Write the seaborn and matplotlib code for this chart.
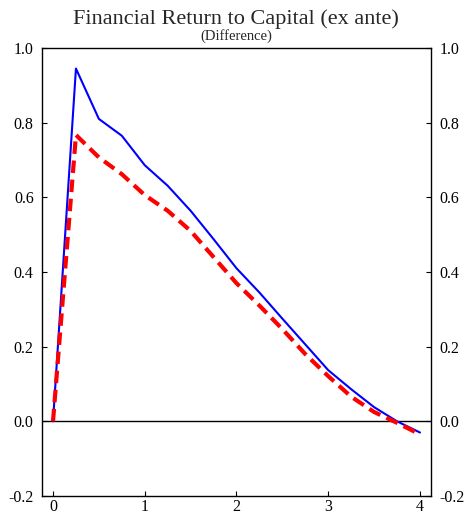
import numpy as np
import pandas as pd
import matplotlib
matplotlib.use("Agg")
import matplotlib.pyplot as plt
import seaborn as sns

years = [0, 0.25, 0.5, 0.75, 1.0, 1.25, 1.5, 1.75, 2.0, 2.25, 2.5, 2.75, 3.0, 3.25, 3.5, 3.75, 4.0]
blue_series = [0, 0.945, 0.81, 0.765, 0.686, 0.631, 0.564, 0.488, 0.41, 0.345, 0.275, 0.206, 0.137, 0.086, 0.038, 0.0, -0.03]
red_series = [0, 0.767, 0.707, 0.662, 0.606, 0.564, 0.51, 0.44, 0.37, 0.31, 0.247, 0.18, 0.121, 0.066, 0.025, -0.004, -0.035]
xticks = [0, 1, 2, 3, 4]
yticks = [-0.2, 0.0, 0.2, 0.4, 0.6, 0.8, 1.0]
title = "Financial Return to Capital (ex ante)"
subtitle = "(Difference)"

sns.set_style("white")
plt.rcParams['font.family'] = ['Liberation Serif', 'DejaVu Serif']
plt.rcParams['axes.unicode_minus'] = False

df_b = pd.DataFrame({"x": years, "y": blue_series})
df_r = pd.DataFrame({"x": years, "y": red_series})

fig = plt.figure(figsize=(4.72, 5.16), dpi=100)
ax = fig.add_axes([42/472, 1-496/516, (431-42)/472, (496-48)/516])

ax.axhline(0, color="black", lw=1.0, zorder=1)
sns.lineplot(data=df_b, x="x", y="y", ax=ax, color="#0000ff", lw=1.5, zorder=2)
sns.lineplot(data=df_r, x="x", y="y", ax=ax, color="#ff0000", lw=3.0, zorder=3,
             linestyle=(0, (3.0, 1.6)))

ax.set_xlim(-0.12, 4.12)
ax.set_ylim(-0.2, 1.0)
ax.set_xticks(xticks)
ax.set_xticklabels([str(t) for t in xticks])
ax.set_yticks(yticks)
ax.set_yticklabels([f"{t:.1f}" for t in yticks])
ax.set_xlabel("")
ax.set_ylabel("")
for s in ax.spines.values():
    s.set_color("black")
    s.set_linewidth(1.0)
ax.tick_params(axis="both", direction="in", length=3.5, width=0.8, colors="black",
               labelsize=11.5, left=True, right=True, bottom=True, top=False,
               labelleft=True, labelright=True)
ax.tick_params(axis="y", pad=6)
ax.tick_params(axis="x", pad=2)

fig.text(0.5, 1-19/516, title, ha="center", va="center", fontsize=16)
fig.text(0.5, 1-36/516, subtitle, ha="center", va="center", fontsize=10.5)

fig.savefig("out.png", dpi=100)
